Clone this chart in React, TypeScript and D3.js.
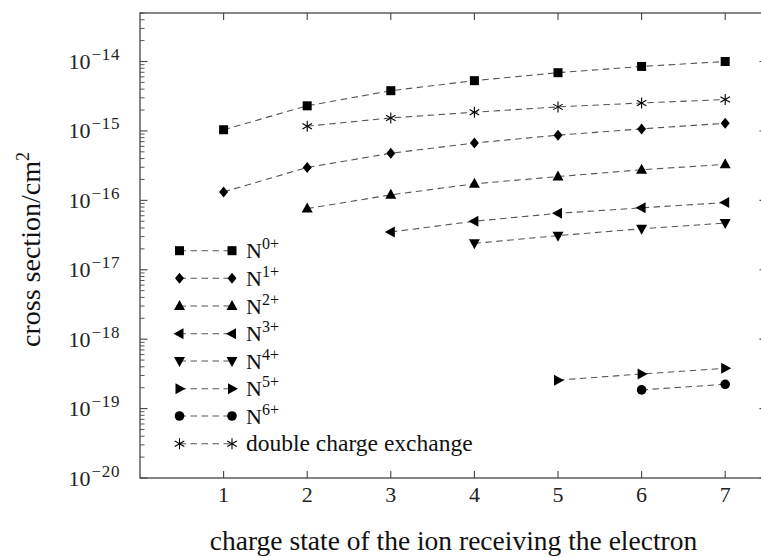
import React from 'react';
import * as d3 from 'd3';

// charge state of receiving ion
const charges = [1, 2, 3, 4, 5, 6, 7];

// cross sections in cm^2 (null = no value)
const n0 = [1.04e-15, 2.3e-15, 3.8e-15, 5.3e-15, 6.9e-15, 8.5e-15, 1.0e-14];
const n1 = [1.32e-16, 2.98e-16, 4.77e-16, 6.7e-16, 8.7e-16, 1.07e-15, 1.29e-15];
const n2 = [null, 7.6e-17, 1.2e-16, 1.73e-16, 2.2e-16, 2.76e-16, 3.3e-16];
const n3 = [null, null, 3.5e-17, 5.0e-17, 6.5e-17, 7.8e-17, 9.3e-17];
const n4 = [null, null, null, 2.4e-17, 3.1e-17, 3.9e-17, 4.7e-17];
const n5 = [null, null, null, null, 2.57e-19, 3.15e-19, 3.8e-19];
const n6 = [null, null, null, null, null, 1.86e-19, 2.24e-19];
const dce = [null, 1.17e-15, 1.54e-15, 1.86e-15, 2.22e-15, 2.53e-15, 2.83e-15];

const seriesNames = ['0+', '1+', '2+', '3+', '4+', '5+', '6+', 'double charge exchange'];
const markerKinds = ['square', 'diamond', 'up', 'left', 'down', 'right', 'circle', 'asterisk'];
const seriesValues = [n0, n1, n2, n3, n4, n5, n6, dce];

const yTickExps = [-20, -19, -18, -17, -16, -15, -14];
const xTicks = [1, 2, 3, 4, 5, 6, 7];

const W = 761;
const H = 556;
const left = 140, right = 767, top = 13, bottom = 478;

const serif = 'Liberation Serif';

function Marker({ kind, x, y }: { kind: string; x: number; y: number }) {
  const tri = (pts: number[][]) =>
    <path d={'M' + pts.map(p => `${x + p[0]},${y + p[1]}`).join('L') + 'Z'} fill="#000" />;
  switch (kind) {
    case 'square':
      return <rect x={x - 4.5} y={y - 4.5} width={9} height={9} fill="#000" />;
    case 'diamond':
      return tri([[0, -5.5], [4.5, 0], [0, 5.5], [-4.5, 0]]);
    case 'up':
      return tri([[0, -6], [5.5, 4], [-5.5, 4]]);
    case 'down':
      return tri([[0, 6], [5.5, -4], [-5.5, -4]]);
    case 'left':
      return tri([[-6, 0], [4, -5.5], [4, 5.5]]);
    case 'right':
      return tri([[6, 0], [-4, -5.5], [-4, 5.5]]);
    case 'circle':
      return <circle cx={x} cy={y} r={4.8} fill="#000" />;
    default: {
      const r = 5.5;
      const angs = [90, 30, -30];
      return (
        <g stroke="#000" strokeWidth={1.1}>
          {angs.map(a => {
            const dx = r * Math.cos((a * Math.PI) / 180);
            const dy = r * Math.sin((a * Math.PI) / 180);
            return <line key={a} x1={x - dx} y1={y - dy} x2={x + dx} y2={y + dy} />;
          })}
        </g>
      );
    }
  }
}

export default function App() {
  const x = d3.scaleLinear().domain([0, 7.5]).range([left, right]);
  const y = d3.scaleLog().domain([1e-20, 5e-14]).range([bottom, top]);

  const line = d3.line<[number, number | null]>()
    .defined(d => d[1] != null)
    .x(d => x(d[0]))
    .y(d => y(d[1] as number));

  // minor ticks 2..9 in every decade inside the domain
  const minor: number[] = [];
  for (let e = -20; e <= -14; e++) {
    for (let m = 2; m <= 9; m++) {
      const v = m * Math.pow(10, e);
      if (v <= 5e-14) minor.push(v);
    }
  }

  const frame = '#444';
  const legendRows = [250.7, 278.3, 306, 333.7, 361, 388.7, 416, 443.7];

  return (
    <svg width={W} height={H} style={{ position: 'absolute', left: 0, top: 0, background: '#fff' }}>
      {/* frame */}
      <rect x={left} y={top} width={right - left} height={bottom - top} fill="none" stroke={frame} strokeWidth={1.3} />
      {xTicks.map(t => (
        <g key={t} stroke={frame} strokeWidth={1.1}>
          <line x1={x(t)} x2={x(t)} y1={bottom} y2={bottom - 7} />
          <line x1={x(t)} x2={x(t)} y1={top} y2={top + 7} />
        </g>
      ))}
      {xTicks.map(t => (
        <text key={'xl' + t} x={x(t)} y={502} textAnchor="middle" fontSize={22} fill="#222" fontFamily={serif}>{t}</text>
      ))}
      {yTickExps.map(e => (
        <g key={e} stroke={frame} strokeWidth={1.1}>
          <line x1={left} x2={left + 7.5} y1={y(Math.pow(10, e))} y2={y(Math.pow(10, e))} />
          <line x1={right} x2={right - 7.5} y1={y(Math.pow(10, e))} y2={y(Math.pow(10, e))} />
        </g>
      ))}
      {minor.map((v, i) => (
        <g key={'m' + i} stroke={frame} strokeWidth={0.9}>
          <line x1={left} x2={left + 4.5} y1={y(v)} y2={y(v)} />
          <line x1={right} x2={right - 4.5} y1={y(v)} y2={y(v)} />
        </g>
      ))}
      {yTickExps.map(e => (
        <text key={'yl' + e} x={120} y={y(Math.pow(10, e)) + 7.5} textAnchor="end" fontSize={22} fill="#222" fontFamily={serif}>
          10<tspan fontSize={17} dy={-9} dx={1} fontFamily={serif} letterSpacing={0.6}>{'\u2212' + Math.abs(e)}</tspan>
        </text>
      ))}

      {/* series lines */}
      {seriesValues.map((vals, i) => (
        <path key={'l' + i}
          d={line(charges.map((c, j) => [c, vals[j]] as [number, number | null])) || ''}
          fill="none" stroke="#555" strokeWidth={1.1} strokeDasharray="6.5,4.5" />
      ))}
      {seriesValues.map((vals, i) => (
        <g key={'p' + i}>
          {charges.map((c, j) => vals[j] == null ? null :
            <Marker key={j} kind={markerKinds[i]} x={x(c)} y={y(vals[j] as number)} />)}
        </g>
      ))}

      {/* legend */}
      {seriesNames.map((name, i) => (
        <g key={'lg' + i}>
          <line x1={179.5} x2={232} y1={legendRows[i]} y2={legendRows[i]} stroke="#555" strokeWidth={1.1} strokeDasharray="6.5,4.5" />
          <Marker kind={markerKinds[i]} x={179.5} y={legendRows[i]} />
          <Marker kind={markerKinds[i]} x={232} y={legendRows[i]} />
          {i < 7 ? (
            <text x={246} y={legendRows[i] + 7.5} fontSize={22} fill="#111" fontFamily={serif}>
              N<tspan fontSize={16} dy={-9} fontFamily={serif}>{name}</tspan>
            </text>
          ) : (
            <text x={246} y={legendRows[i] + 7} fontSize={23.5} fill="#111" fontFamily={serif}>{name}</text>
          )}
        </g>
      ))}

      {/* axis labels */}
      <text x={453.5} y={550} textAnchor="middle" fontSize={27.5} fill="#111" fontFamily={serif}>
        charge state of the ion receiving the electron
      </text>
      <text transform={`translate(40,${(top + bottom) / 2 + 4}) rotate(-90)`} textAnchor="middle" fontSize={28} fill="#111" fontFamily={serif}>
        cross section/cm<tspan fontSize={18} dy={-11}>2</tspan>
      </text>
    </svg>
  );
}
